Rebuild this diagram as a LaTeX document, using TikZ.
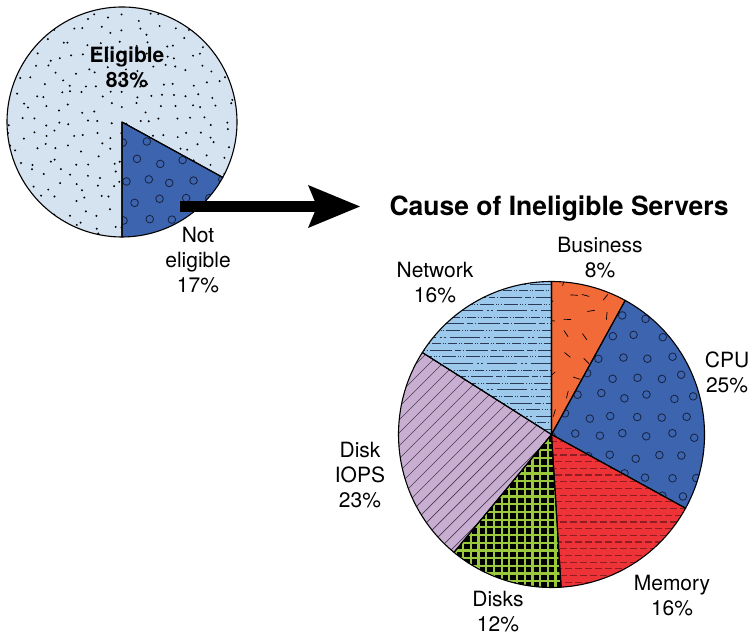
\documentclass[tikz,border=0pt]{standalone}
\usepackage{fontspec}
\setmainfont{TeX Gyre Heros}
\usetikzlibrary{arrows.meta}
\definecolor{eligfill}{HTML}{D5E3F1}
\definecolor{bluefill}{HTML}{3D64AE}
\definecolor{bizfill}{HTML}{F26A38}
\definecolor{memfill}{HTML}{EE3338}
\definecolor{memline}{HTML}{8E1E22}
\definecolor{diskfill}{HTML}{9ACA3C}
\definecolor{iopsfill}{HTML}{C8AFD2}
\definecolor{iopsline}{HTML}{4A3B50}
\definecolor{netfill}{HTML}{9DCAEC}
\definecolor{netline}{HTML}{2B3A55}
\definecolor{circline}{HTML}{16223F}
\tikzset{
  outline/.style={draw=black, line width=1.1pt, line join=round},
  circ/.style={draw=circline, line width=0.8pt},
  dot/.style={fill=black},
  bizdash/.style={draw=black, line width=0.7pt},
  memdash/.style={draw=memline, line width=1.2pt, dash pattern=on 6.5pt off 3.5pt},
  netrow/.style={draw=netline, line width=0.9pt},
  gridline/.style={draw=diskfill, line width=2.2pt},
  hatch/.style={draw=iopsline, line width=0.7pt},
  lbl/.style={align=center, inner sep=0pt, font=\fontsize{21}{25}\selectfont},
  blbl/.style={lbl, font=\fontsize{21}{25}\selectfont\bfseries},
  bigarrow/.style={line width=11pt, -{Stealth[length=52pt,width=43pt,inset=9pt,line width=0pt]}}
}
\begin{document}
\begin{tikzpicture}[x=1pt,y=1pt]
\useasboundingbox (0,0) rectangle (751,636);
\pgfmathsetseed{11}

% ---------------- left pie ----------------
\begin{scope}
  \clip (122,514) -- ++(-28.8:115) arc[start angle=-28.8,end angle=270,radius=115] -- cycle;
  \fill[eligfill] (0,390) rectangle (250,636);
  \foreach \x in {7,20,...,240} \foreach \y in {398,411,...,632}
    \fill[dot] ({\x+5*rand},{\y+5*rand}) circle[radius=1.1];
\end{scope}
\begin{scope}
  \clip (122,514) -- ++(-90:115) arc[start angle=-90,end angle=-28.8,radius=115] -- cycle;
  \fill[bluefill] (100,390) rectangle (250,520);
  \foreach \j in {0,...,7} \foreach \i in {0,...,6}
    \draw[circ] ({112+\i*24+mod(\j,2)*12+3*rand},{395+\j*20+3*rand}) circle[radius=3.8];
\end{scope}
\draw[outline] (122,514) -- ++(-28.8:115) arc[start angle=-28.8,end angle=270,radius=115] -- cycle;
\draw[outline] (122,514) -- ++(-90:115) arc[start angle=-90,end angle=-28.8,radius=115] -- cycle;

% ---------------- right pie ----------------
% Business
\begin{scope}
  \clip (551.5,201.5) -- ++(61.2:153) arc[start angle=61.2,end angle=90,radius=153] -- cycle;
  \fill[bizfill] (540,190) rectangle (640,360);
  \foreach \x in {548,568,...,640} \foreach \y in {200,220,...,360}
    \draw[bizdash] ({\x+6*rand},{\y+6*rand}) -- ++({180*rand}:7.5);
\end{scope}
% CPU
\begin{scope}
  \clip (551.5,201.5) -- ++(-28.8:153) arc[start angle=-28.8,end angle=61.2,radius=153] -- cycle;
  \fill[bluefill] (540,100) rectangle (710,360);
  \foreach \j in {0,...,13} \foreach \i in {0,...,7}
    \draw[circ] ({540+\i*24+mod(\j,2)*12+3*rand},{100+\j*20+3*rand}) circle[radius=3.8];
\end{scope}
% Memory
\begin{scope}
  \clip (551.5,201.5) -- ++(-86.4:153) arc[start angle=-86.4,end angle=-28.8,radius=153] -- cycle;
  \fill[memfill] (540,45) rectangle (710,210);
  \foreach \j in {0,...,24} {
    \pgfmathsetmacro\ph{mod(\j,2)*5}
    \draw[memdash, dash phase=\ph pt] (540,{47+\j*6.7}) -- (710,{47+\j*6.7});
  }
\end{scope}
% Disks
\begin{scope}
  \clip (551.5,201.5) -- ++(-129.6:153) arc[start angle=-129.6,end angle=-86.4,radius=153] -- cycle;
  \fill[black] (440,45) rectangle (570,210);
  \foreach \k in {0,...,22} {
    \draw[gridline] ({440+\k*7.7},45) -- ({440+\k*7.7},210);
    \draw[gridline] (440,{47+\k*7.7}) -- (570,{47+\k*7.7});
  }
\end{scope}
% Disk IOPS
\begin{scope}
  \clip (551.5,201.5) -- ++(147.6:153) arc[start angle=147.6,end angle=230.4,radius=153] -- cycle;
  \fill[iopsfill] (395,55) rectangle (560,290);
  \foreach \k in {0,...,32}
    \draw[hatch] ({160+\k*13},55) -- ++(240,240);
\end{scope}
% Network
\begin{scope}
  \clip (551.5,201.5) -- ++(90:153) arc[start angle=90,end angle=147.6,radius=153] -- cycle;
  \fill[netfill] (410,195) rectangle (560,360);
  \foreach \j in {0,...,24} {
    \pgfmathsetmacro\ph{20*rnd}
    \pgfmathtruncatemacro\pt{mod(\j,4)}
    \ifcase\pt
      \draw[netrow, dash pattern=on 14pt off 2pt on 1pt off 1.5pt on 1pt off 1.5pt on 1pt off 2pt, dash phase=\ph pt] (410,{200+\j*6.6}) -- (560,{200+\j*6.6});
    \or
      \draw[netrow, dash pattern=on 22pt off 3pt on 6pt off 2pt on 1pt off 2pt, dash phase=\ph pt] (410,{200+\j*6.6}) -- (560,{200+\j*6.6});
    \or
      \draw[netrow, dash pattern=on 1pt off 1.5pt on 1pt off 1.5pt on 9pt off 2pt, dash phase=\ph pt] (410,{200+\j*6.6}) -- (560,{200+\j*6.6});
    \else
      \draw[netrow, dash pattern=on 30pt off 4pt on 2pt off 2pt on 2pt off 4pt, dash phase=\ph pt] (410,{200+\j*6.6}) -- (560,{200+\j*6.6});
    \fi
  }
\end{scope}
\draw[outline] (551.5,201.5) -- ++(61.2:153) arc[start angle=61.2,end angle=90,radius=153] -- cycle;
\draw[outline] (551.5,201.5) -- ++(-28.8:153) arc[start angle=-28.8,end angle=61.2,radius=153] -- cycle;
\draw[outline] (551.5,201.5) -- ++(-86.4:153) arc[start angle=-86.4,end angle=-28.8,radius=153] -- cycle;
\draw[outline] (551.5,201.5) -- ++(-129.6:153) arc[start angle=-129.6,end angle=-86.4,radius=153] -- cycle;
\draw[outline] (551.5,201.5) -- ++(147.6:153) arc[start angle=147.6,end angle=230.4,radius=153] -- cycle;
\draw[outline] (551.5,201.5) -- ++(90:153) arc[start angle=90,end angle=147.6,radius=153] -- cycle;

% ---------------- arrow ----------------
\coordinate (arrS) at (180,429.5);
\coordinate (arrE) at (360,429.5);
\draw[bigarrow] (arrS) -- (arrE);

% ---------------- labels (anchor=base = baseline of last line) ----------------
\node[blbl, anchor=base] (elig) at (127,548) {Eligible\\83\%};
\node[lbl, anchor=base] (notelig) at (198,343) {Not\\eligible\\17\%};
\node[inner sep=0pt, anchor=base, font=\fontsize{26.5}{30}\selectfont\bfseries] (title) at (559,420) {Cause of Ineligible Servers};
\node[lbl, anchor=base] (business) at (600,358) {Business\\8\%};
\node[lbl, anchor=base] (network) at (435,333) {Network\\16\%};
\node[lbl, anchor=base] (cpu) at (727,243) {CPU\\25\%};
\node[lbl, anchor=base] (iops) at (360,128) {Disk\\IOPS\\23\%};
\node[lbl, anchor=base] (memory) at (672,20) {Memory\\16\%};
\node[lbl, anchor=base] (disks) at (498,4) {Disks\\12\%};
\end{tikzpicture}
\end{document}
